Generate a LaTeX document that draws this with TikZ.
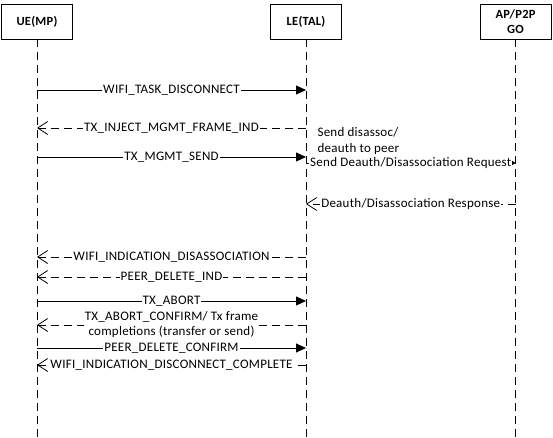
\documentclass[tikz,border=0pt]{standalone}
\usepackage{fontspec}
\setmainfont{Carlito}[LetterSpace=2]
\usetikzlibrary{arrows.meta, positioning}

\begin{document}
\begin{tikzpicture}[x=1pt, y=-1pt,
  font=\fontsize{13}{16}\selectfont,
  head/.style={draw, line width=0.8pt, minimum width=71pt, minimum height=35pt, align=center, inner sep=1pt, font=\fontsize{12.5}{15}\selectfont\bfseries},
  life/.style={line width=0.8pt, dash pattern=on 8pt off 5pt},
  call/.style={line width=0.8pt, -{Triangle[length=10pt, width=9pt]}},
  peercall/.style={line width=0.8pt, -{Triangle[length=4pt, width=5pt]}},
  reply/.style={line width=0.8pt, dash pattern=on 8pt off 5pt, -{Straight Barb[length=10pt, width=13pt]}},
  lbl/.style={midway, fill=white, inner xsep=1pt, inner ysep=0pt, align=center},
  ]
  \useasboundingbox (0,0) rectangle (553,438);
  % lifeline heads
  \node[head] (ue) at (37,21.5) {UE(MP)};
  \node[head] (le) at (306,21.5) {LE(TAL)};
  \node[head] (ap) at (515.5,21.5) {AP/P2P\\GO};
  \coordinate (bottom) at (0,437);
  \draw[life] (ue.south) -- (ue |- bottom);
  \draw[life] (le.south) -- (le |- bottom);
  \draw[life] (ap.south) -- (ap |- bottom);
  % message rows
  \coordinate (r1) at (0,90);
  \coordinate (r2) at (0,128);
  \coordinate (r3) at (0,157);
  \coordinate (r4) at (0,163);
  \coordinate (r5) at (0,204);
  \coordinate (r6) at (0,257);
  \coordinate (r7) at (0,277);
  \coordinate (r8) at (0,301);
  \coordinate (r9) at (0,325);
  \coordinate (r10) at (0,348);
  \coordinate (r11) at (0,365);
  \draw[call] (ue |- r1) -- (le |- r1) node[lbl] {WIFI\_TASK\_DISCONNECT};
  \draw[reply] (le |- r2) -- (ue |- r2) node[lbl] {TX\_INJECT\_MGMT\_FRAME\_IND};
  \draw[call] (ue |- r3) -- (le |- r3) node[lbl] {TX\_MGMT\_SEND};
  \node[anchor=west, align=left] (note) at (314,141) {Send disassoc/\\deauth to peer};
  \draw[peercall] (le |- r4) -- (ap |- r4) node[lbl] {Send Deauth/Disassociation Request};
  \draw[reply] (ap |- r5) -- (le |- r5) node[lbl] {Deauth/Disassociation Response};
  \draw[reply] (le |- r6) -- (ue |- r6) node[lbl] {WIFI\_INDICATION\_DISASSOCIATION};
  \draw[reply] (le |- r7) -- (ue |- r7) node[lbl] {PEER\_DELETE\_IND};
  \draw[call] (ue |- r8) -- (le |- r8) node[lbl] {TX\_ABORT};
  \draw[reply] (le |- r9) -- (ue |- r9) node[lbl, font=\fontsize{13}{15}\selectfont] {TX\_ABORT\_CONFIRM/ Tx frame\\completions (transfer or send)};
  \draw[call] (ue |- r10) -- (le |- r10) node[lbl] {PEER\_DELETE\_CONFIRM};
  \draw[reply] (le |- r11) -- (ue |- r11) node[lbl] {WIFI\_INDICATION\_DISCONNECT\_COMPLETE};
\end{tikzpicture}
\end{document}
